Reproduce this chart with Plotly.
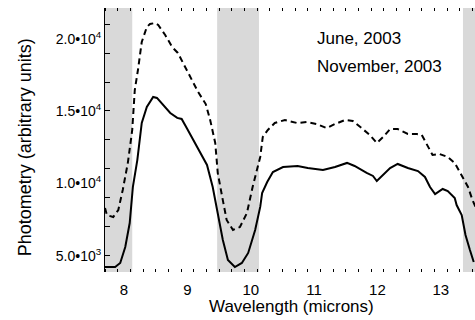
import plotly.graph_objects as go

# June 2003 (dashed)
june_wl = [7.70, 7.73, 7.83, 7.91, 7.98, 8.06, 8.13, 8.17, 8.22, 8.25, 8.28, 8.36, 8.41, 8.49, 8.54,
           8.65, 8.76, 8.85, 8.93, 9.01, 9.17, 9.29, 9.36, 9.44, 9.48, 9.55, 9.62, 9.72, 9.83, 9.94,
           10.03, 10.15, 10.19, 10.27, 10.38, 10.54, 10.73, 10.89, 11.04, 11.20, 11.33, 11.49, 11.61,
           11.75, 11.88, 11.99, 12.09, 12.20, 12.32, 12.48, 12.62, 12.70, 12.79, 12.87, 12.98, 13.11,
           13.22, 13.33, 13.43, 13.50, 13.57]
june_val = [8300, 7810, 7670, 8160, 9540, 11400, 13690, 16450, 17830, 18660, 19770, 20800, 21010, 21080, 20940,
            20250, 19420, 19010, 18320, 17620, 16310, 15480, 14380, 12790, 10710, 9060, 7470, 6780, 6980, 7950,
            9750, 11820, 13200, 13690, 14170, 14380, 14170, 14240, 14100, 13820, 14100, 14380, 14310,
            13820, 13340, 12790, 13200, 13750, 13750, 13410, 13410, 13340, 12650, 11960, 12030, 11820,
            11410, 10580, 9750, 8850, 8160]

# November 2003 (solid)
nov_wl = [7.70, 7.73, 7.86, 7.94, 8.02, 8.09, 8.14, 8.21, 8.28, 8.36, 8.46, 8.52, 8.62, 8.73, 8.84,
          8.91, 8.99, 9.12, 9.23, 9.31, 9.40, 9.48, 9.56, 9.64, 9.75, 9.86, 9.96, 10.07, 10.15, 10.18,
          10.26, 10.35, 10.51, 10.74, 10.90, 11.14, 11.33, 11.52, 11.64, 11.83, 11.93, 11.99, 12.09,
          12.20, 12.32, 12.48, 12.64, 12.75, 12.83, 12.91, 13.03, 13.11, 13.22, 13.25, 13.33, 13.39,
          13.46, 13.52]
nov_val = [4220, 4220, 4220, 4500, 5600, 7260, 9750, 11610, 14170, 15280, 15970, 15900, 15410, 14860, 14520,
           14450, 13820, 12790, 11820, 11270, 9750, 7950, 6090, 4700, 4220, 4500, 5190, 6780, 8370, 9330,
           10090, 10780, 11130, 11200, 11060, 10920, 11130, 11410, 11200, 10720, 10510, 10160, 10580,
           11060, 11340, 11060, 10850, 10440, 9750, 9260, 9610, 9470, 8990, 8500, 7810, 6430,
           5390, 4570]

shade_bands = [(7.70, 8.13), (9.47, 10.13), (13.35, 13.54)]

y_tickvals = [5000, 10000, 15000, 20000]
y_ticktext = ["5.0•10<sup>3</sup>", "1.0•10<sup>4</sup>", "1.5•10<sup>4</sup>", "2.0•10<sup>4</sup>"]
x_tickvals = [8, 9, 10, 11, 12, 13]

fig = go.Figure()
for a, b in shade_bands:
    fig.add_shape(type="rect", xref="x", yref="paper", x0=a, x1=b, y0=0, y1=1,
                  fillcolor="#d9d9d9", line=dict(width=0), layer="below")

fig.add_trace(go.Scatter(x=june_wl, y=june_val, mode="lines",
                         line=dict(color="black", width=2, dash="6px,4px"), name="June, 2003"))
fig.add_trace(go.Scatter(x=nov_wl, y=nov_val, mode="lines",
                         line=dict(color="black", width=2), name="November, 2003"))

font = dict(family="Liberation Sans, Arial, sans-serif", color="black")

fig.update_layout(
    width=475, height=320,
    margin=dict(l=105, r=0, t=8, b=48),
    plot_bgcolor="white", paper_bgcolor="white",
    showlegend=False,
    font=dict(size=14, **font),
    xaxis=dict(range=[7.70, 13.54], tickvals=x_tickvals, ticks="", showgrid=False, zeroline=False,
               showline=True, linecolor="rgba(0,0,0,0)", mirror="ticks", tickfont=dict(size=15),
               ticklabelstandoff=4,
               minor=dict(dtick=0.2, tick0=8.1, ticks="inside", ticklen=3, tickcolor="black", showgrid=False)),
    yaxis=dict(range=[3874, 22116], tickvals=y_tickvals, ticktext=y_ticktext, ticks="", showgrid=False,
               zeroline=False, showline=True, linecolor="black", linewidth=1, tickfont=dict(size=14),
               minor=dict(dtick=2000, tick0=5000, ticks="inside", ticklen=5, tickcolor="black", showgrid=False)),
)

fig.add_annotation(text="Photometry (arbitrary units)", xref="paper", yref="paper", x=-0.216, y=0.473,
                   textangle=-90, showarrow=False, font=dict(size=18), xanchor="center", yanchor="middle")
fig.add_annotation(text="Wavelength (microns)", xref="paper", yref="paper", x=0.505, y=-0.129,
                   showarrow=False, font=dict(size=17), xanchor="center", yanchor="middle")
fig.add_annotation(text="June, 2003", xref="paper", yref="paper", x=0.568, y=0.883,
                   showarrow=False, font=dict(size=17), xanchor="left", yanchor="middle")
fig.add_annotation(text="November, 2003", xref="paper", yref="paper", x=0.568, y=0.780,
                   showarrow=False, font=dict(size=17), xanchor="left", yanchor="middle")

fig.write_html("out.html", config={"displayModeBar": False},
               post_script="document.body.style.margin='0';document.body.style.overflow='hidden';")
